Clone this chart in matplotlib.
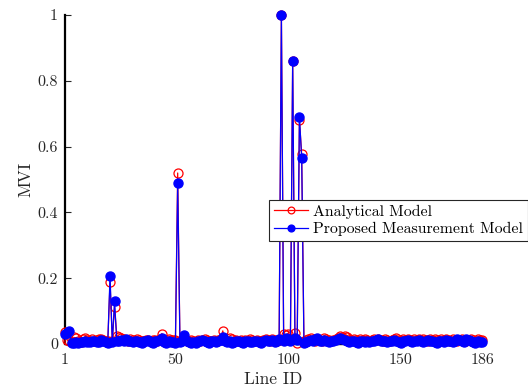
import numpy as np
import matplotlib
matplotlib.use('Agg')
import matplotlib.pyplot as plt

plt.rcParams['font.family'] = ['cmr10', 'DejaVu Serif']
plt.rcParams['mathtext.fontset'] = 'cm'
plt.rcParams['axes.formatter.use_mathtext'] = True

line_id = np.arange(1, 187)

analytical = [
    0.038, 0.012, 0.010, 0.005, 0.020, 0.018, 0.008, 0.006, 0.015, 0.018,
    0.012, 0.010, 0.014, 0.010, 0.012, 0.016, 0.015, 0.012, 0.010, 0.008,
    0.190, 0.010, 0.113, 0.025, 0.022, 0.018, 0.015, 0.012, 0.010, 0.015,
    0.012, 0.010, 0.014, 0.012, 0.008, 0.010, 0.012, 0.011, 0.010, 0.013,
    0.012, 0.010, 0.015, 0.032, 0.012, 0.010, 0.014, 0.012, 0.011, 0.012,
    0.520, 0.010, 0.012, 0.015, 0.010, 0.008, 0.012, 0.010, 0.005, 0.012,
    0.010, 0.012, 0.014, 0.012, 0.010, 0.008, 0.012, 0.010, 0.012, 0.015,
    0.040, 0.012, 0.010, 0.018, 0.015, 0.010, 0.012, 0.008, 0.012, 0.010,
    0.012, 0.010, 0.014, 0.012, 0.010, 0.012, 0.008, 0.010, 0.012, 0.014,
    0.012, 0.010, 0.015, 0.012, 0.010, 0.012, 1.000, 0.030, 0.028, 0.032,
    0.015, 0.860, 0.033, 0.002, 0.680, 0.577, 0.010, 0.012, 0.015, 0.018,
    0.012, 0.010, 0.015, 0.012, 0.010, 0.018, 0.015, 0.012, 0.010, 0.012,
    0.015, 0.018, 0.024, 0.022, 0.025, 0.022, 0.015, 0.012, 0.014, 0.012,
    0.010, 0.015, 0.012, 0.014, 0.012, 0.010, 0.012, 0.014, 0.012, 0.015,
    0.012, 0.010, 0.014, 0.012, 0.010, 0.012, 0.015, 0.018, 0.012, 0.010,
    0.014, 0.012, 0.015, 0.012, 0.010, 0.014, 0.012, 0.015, 0.012, 0.014,
    0.012, 0.010, 0.015, 0.012, 0.014, 0.012, 0.010, 0.014, 0.012, 0.015,
    0.012, 0.010, 0.014, 0.012, 0.010, 0.012, 0.014, 0.012, 0.010, 0.012,
    0.015, 0.012, 0.010, 0.014, 0.012, 0.013,
]

measured = [
    0.030, 0.034, 0.040, 0.003, 0.002, 0.005, 0.004, 0.006, 0.005, 0.008,
    0.006, 0.005, 0.008, 0.010, 0.007, 0.006, 0.012, 0.008, 0.006, 0.004,
    0.207, 0.006, 0.130, 0.008, 0.010, 0.012, 0.008, 0.014, 0.010, 0.008,
    0.006, 0.010, 0.008, 0.006, 0.004, 0.008, 0.010, 0.012, 0.006, 0.004,
    0.008, 0.010, 0.012, 0.018, 0.006, 0.004, 0.008, 0.006, 0.005, 0.004,
    0.490, 0.005, 0.010, 0.028, 0.008, 0.005, 0.004, 0.006, 0.004, 0.008,
    0.010, 0.012, 0.008, 0.006, 0.004, 0.008, 0.010, 0.006, 0.008, 0.012,
    0.022, 0.010, 0.006, 0.008, 0.004, 0.006, 0.008, 0.010, 0.006, 0.004,
    0.008, 0.010, 0.006, 0.005, 0.008, 0.010, 0.006, 0.004, 0.008, 0.012,
    0.010, 0.008, 0.012, 0.006, 0.010, 0.014, 1.000, 0.008, 0.018, 0.014,
    0.010, 0.860, 0.018, 0.012, 0.690, 0.565, 0.004, 0.006, 0.010, 0.012,
    0.008, 0.015, 0.018, 0.010, 0.008, 0.012, 0.010, 0.006, 0.008, 0.010,
    0.012, 0.014, 0.018, 0.016, 0.012, 0.010, 0.006, 0.008, 0.010, 0.006,
    0.004, 0.008, 0.010, 0.006, 0.008, 0.006, 0.008, 0.010, 0.012, 0.016,
    0.010, 0.008, 0.010, 0.006, 0.008, 0.010, 0.012, 0.010, 0.006, 0.004,
    0.008, 0.010, 0.012, 0.008, 0.006, 0.008, 0.010, 0.012, 0.008, 0.006,
    0.010, 0.012, 0.008, 0.010, 0.006, 0.004, 0.008, 0.010, 0.006, 0.012,
    0.010, 0.008, 0.006, 0.008, 0.015, 0.012, 0.010, 0.006, 0.014, 0.012,
    0.008, 0.006, 0.004, 0.008, 0.005, 0.006,
]

assert len(analytical) == 186 and len(measured) == 186

xticks = [1, 50, 100, 150, 186]
yticks = [0, 0.2, 0.4, 0.6, 0.8, 1.0]
ytick_labels = ['0', '0.2', '0.4', '0.6', '0.8', '1']

fig = plt.figure(figsize=(5.28, 3.87), dpi=100)
ax = fig.add_axes([0.123, 0.111, 0.790, 0.850])

ax.plot(line_id, analytical, '-o', color='red', mfc='none', mec='red',
        ms=6.5, lw=0.9, mew=0.9, clip_on=False, zorder=3, label='Analytical Model')
ax.plot(line_id, measured, '-o', color='blue', mfc='blue', mec='blue',
        ms=6.5, lw=0.9, clip_on=False, zorder=4, label='Proposed Measurement Model')

ax.set_xlim(1, 186)
ax.set_ylim(0, 1)
ax.set_xticks(xticks)
ax.set_xticklabels([str(t) for t in xticks])
ax.set_yticks(yticks)
ax.set_yticklabels(ytick_labels)

for s in ['top', 'right']:
    ax.spines[s].set_visible(False)
ax.spines['left'].set_linewidth(1.6)
ax.spines['bottom'].set_linewidth(1.0)
ax.tick_params(direction='in', length=4, width=0.8, labelsize=11.5, pad=5,
               colors='#262626')
ax.tick_params(axis='x', length=0, pad=7)

ax.set_xlabel('Line ID', fontsize=12.5, labelpad=3, color='#262626')
ax.set_ylabel('MVI', fontsize=12.5, labelpad=3, color='#262626')

leg = fig.legend(loc='lower left', bbox_to_anchor=(0.509, 0.377),
                 borderaxespad=0, fontsize=11.4, fancybox=False,
                 edgecolor='#262626', framealpha=1, handlelength=2.2,
                 handletextpad=0.3, borderpad=0.3, labelspacing=0.2,
                 markerscale=0.75)
leg.get_frame().set_linewidth(0.8)

fig.savefig('out.png', dpi=100)
